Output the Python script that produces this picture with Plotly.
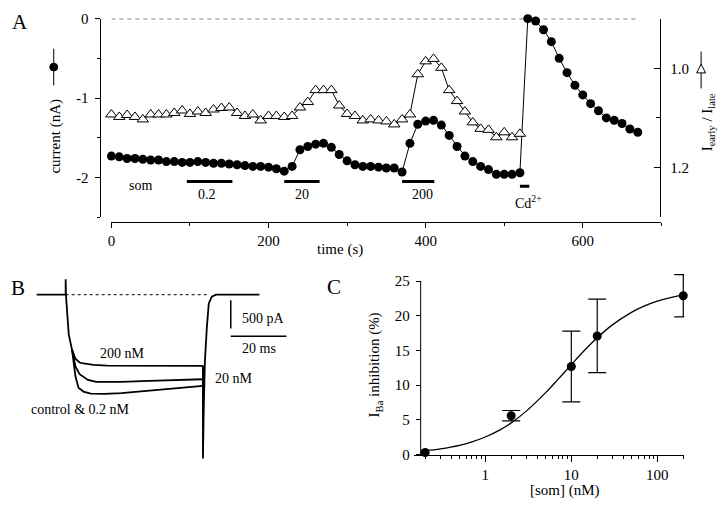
import plotly.graph_objects as go

# ---------------- data ----------------
# Panel A: time course (s)
time_circ = [0, 10, 20, 30, 40, 50, 60, 70, 80, 90, 100, 110, 120, 130, 140, 150, 160, 170, 180, 190,
             200, 210, 220, 230, 240, 250, 260, 270, 280, 290, 300, 310, 320, 330, 340, 350, 360, 370,
             380, 390, 400, 410, 420, 430, 440, 450, 460, 470, 480, 490, 500, 510, 520,
             530, 540, 550, 560, 570, 580, 590, 600, 610, 620, 630, 640, 650, 660, 670]
current_nA = [-1.73, -1.74, -1.76, -1.76, -1.77, -1.78, -1.78, -1.80, -1.80, -1.81, -1.81, -1.80, -1.81,
              -1.82, -1.82, -1.83, -1.84, -1.85, -1.86, -1.86, -1.87, -1.89, -1.92,
              -1.86, -1.65, -1.61, -1.58, -1.57, -1.62, -1.71, -1.79, -1.84, -1.86, -1.86, -1.87, -1.88,
              -1.88, -1.93,
              -1.57, -1.33, -1.29, -1.28, -1.34, -1.47, -1.61, -1.73, -1.80, -1.86, -1.90, -1.96, -1.96,
              -1.96, -1.94,
              0.00, -0.03, -0.14, -0.29, -0.50, -0.68, -0.84, -0.96, -1.07, -1.16, -1.25, -1.28, -1.32,
              -1.39, -1.43]
time_tri = time_circ[:53]
ratio_early_late = [1.093, 1.098, 1.094, 1.098, 1.103, 1.093, 1.093, 1.093, 1.090, 1.085, 1.092, 1.087,
                    1.090, 1.083, 1.080, 1.079, 1.090, 1.096, 1.093, 1.105, 1.096, 1.096, 1.098,
                    1.096, 1.079, 1.068, 1.044, 1.044, 1.044, 1.075, 1.092, 1.096, 1.105, 1.103, 1.105,
                    1.107, 1.113, 1.103,
                    1.093, 1.012, 0.986, 0.981, 0.999, 1.044, 1.066, 1.087, 1.109, 1.122, 1.124, 1.139,
                    1.129, 1.139, 1.132]
som_labels = ["0.2", "20", "200"]
som_start = [96, 220, 370]
som_end = [154, 265, 411]
cd_start, cd_end = 520, 532

# Panel B: current traces (ms, pA)
t_200 = [-10.4, 0, 0, 0.1, 1.1, 2.3, 3.5, 5.0, 6.4, 10, 15, 25, 35, 49.3]
i_200 = [0, 0, 276, 0, -707, -983, -1138, -1207, -1224, -1250, -1264, -1265, -1260, -1265]
t_20 = [2.3, 3.5, 5.0, 6.4, 8, 11, 20, 30, 40, 49.3]
i_20 = [-983, -1276, -1414, -1466, -1517, -1552, -1552, -1534, -1517, -1505]
t_ctrl = [2.3, 3.5, 4.6, 6.4, 9, 14, 20, 30, 40, 49.3]
i_ctrl = [-983, -1448, -1655, -1724, -1759, -1764, -1750, -1707, -1655, -1621]
t_tail = [49.3, 49.3, 49.6, 50.0, 50.7, 51.4, 52.5, 54.0, 69.6]
i_tail = [-1265, -2914, -2000, -1200, -586, -155, -34, 0, 0]
scale_ms = 20
scale_pA = 500

# Panel C: dose response
som_nM = [0.2, 2, 10, 20, 200]
inhib_pct = [0.3, 5.6, 12.7, 17.1, 22.9]
inhib_err = [0, 0.75, 5.1, 5.3, 3.05]
fit_nM = [0.2, 0.3, 0.5, 0.7, 1, 1.5, 2, 3, 5, 7, 10, 15, 20, 30, 50, 70, 100, 150, 200]
fit_pct = [0.55, 0.82, 1.33, 1.83, 2.53, 3.60, 4.57, 6.26, 8.89, 10.84, 12.97, 15.32, 16.84, 18.70,
           20.51, 21.40, 22.12, 22.71, 23.02]

# ---------------- figure ----------------
W, H = 720, 510
FONT = "Liberation Serif"
BLACK = "black"


def fx(p):
    return p / W


def fy(p):
    return 1 - p / H


fig = go.Figure()

# ---- Panel A ----
fig.add_trace(go.Scatter(x=[time_circ[0], time_circ[-1]], y=[0, 0], mode="lines",
                         line=dict(color=BLACK, width=1.2, dash="4px,4px"), xaxis="x", yaxis="y",
                         hoverinfo="skip"))
fig.add_trace(go.Scatter(x=time_circ, y=current_nA, mode="lines+markers",
                         line=dict(color=BLACK, width=1),
                         marker=dict(symbol="circle", size=9, color=BLACK),
                         cliponaxis=False, xaxis="x", yaxis="y"))
for s, e in zip(som_start, som_end):
    fig.add_trace(go.Scatter(x=[s, e], y=[-2.05, -2.05], mode="lines",
                             line=dict(color=BLACK, width=3), xaxis="x", yaxis="y",
                             cliponaxis=False))
fig.add_trace(go.Scatter(x=[cd_start, cd_end], y=[-2.11, -2.11], mode="lines",
                         line=dict(color=BLACK, width=3), xaxis="x", yaxis="y", cliponaxis=False))
fig.add_trace(go.Scatter(x=time_tri, y=ratio_early_late, mode="lines+markers",
                         line=dict(color=BLACK, width=1),
                         marker=dict(symbol="triangle-up", size=10, color="white",
                                     line=dict(color=BLACK, width=1)),
                         cliponaxis=False, xaxis="x", yaxis="y2"))

# ---- Panel B ----
blw = 1.8
fig.add_trace(go.Scatter(x=[0, 51], y=[0, 0], mode="lines",
                         line=dict(color=BLACK, width=1, dash="3px,3px"), xaxis="x3", yaxis="y3"))
fig.add_trace(go.Scatter(x=t_200, y=i_200, mode="lines", line=dict(color=BLACK, width=blw),
                         xaxis="x3", yaxis="y3"))
fig.add_trace(go.Scatter(x=t_20, y=i_20, mode="lines", line=dict(color=BLACK, width=blw),
                         xaxis="x3", yaxis="y3"))
fig.add_trace(go.Scatter(x=t_ctrl, y=i_ctrl, mode="lines", line=dict(color=BLACK, width=blw),
                         xaxis="x3", yaxis="y3"))
fig.add_trace(go.Scatter(x=t_tail, y=i_tail, mode="lines", line=dict(color=BLACK, width=blw),
                         xaxis="x3", yaxis="y3"))
fig.add_trace(go.Scatter(x=[t_ctrl[-1], t_ctrl[-1]], y=[i_200[-1], i_ctrl[-1]], mode="lines",
                         line=dict(color=BLACK, width=blw), xaxis="x3", yaxis="y3"))
# scale bar
sb_x0, sb_y0 = 59.3, -100
fig.add_trace(go.Scatter(x=[sb_x0, sb_x0], y=[sb_y0, sb_y0 - scale_pA], mode="lines",
                         line=dict(color=BLACK, width=1.5), xaxis="x3", yaxis="y3"))
fig.add_trace(go.Scatter(x=[sb_x0, sb_x0 + scale_ms], y=[-740, -740], mode="lines",
                         line=dict(color=BLACK, width=1.5), xaxis="x3", yaxis="y3"))

# ---- Panel C ----
fig.add_trace(go.Scatter(x=fit_nM, y=fit_pct, mode="lines", line=dict(color=BLACK, width=1.3, shape="spline"),
                         xaxis="x4", yaxis="y4"))
ex = [x for x, e in zip(som_nM, inhib_err) if e > 0]
ey = [y for y, e in zip(inhib_pct, inhib_err) if e > 0]
ee = [e for e in inhib_err if e > 0]
fig.add_trace(go.Scatter(x=ex, y=ey, mode="markers", marker=dict(size=1, color=BLACK),
                         error_y=dict(type="data", array=ee, color=BLACK, thickness=1.2, width=9),
                         xaxis="x4", yaxis="y4", cliponaxis=False))
fig.add_trace(go.Scatter(x=som_nM, y=inhib_pct, mode="markers", marker=dict(size=9, color=BLACK),
                         xaxis="x4", yaxis="y4", cliponaxis=False))

tickfont = dict(family=FONT, size=15, color=BLACK)
axis_common = dict(showline=True, linecolor=BLACK, linewidth=1, showgrid=False, zeroline=False,
                   tickcolor=BLACK, tickwidth=1, tickfont=tickfont)

fig.update_layout(
    width=W, height=H, margin=dict(l=0, r=0, t=0, b=0),
    paper_bgcolor="white", plot_bgcolor="rgba(0,0,0,0)", showlegend=False,
    font=dict(family=FONT, size=14, color=BLACK),
    xaxis=dict(domain=[fx(108), fx(661)], range=[0, 700], anchor="free", position=fy(221),
               tickmode="array", tickvals=[0, 200, 400, 600], ticks="outside", ticklen=5,
               minor=dict(tickmode="array", tickvals=[100, 300, 500, 700], ticks="outside", ticklen=3,
                          tickcolor=BLACK),
               **axis_common),
    yaxis=dict(domain=[fy(216), fy(11)], range=[-2.5, 0], anchor="free", position=fx(97),
               tickmode="array", tickvals=[-2, -1, 0], ticktext=["-2", "-1", "0"], ticks="outside",
               ticklen=5, ticklabelstandoff=4,
               minor=dict(tickmode="array", tickvals=[-2.5, -1.5, -0.5], ticks="outside", ticklen=3,
                          tickcolor=BLACK),
               **axis_common),
    yaxis2=dict(overlaying="y", side="right", anchor="free", position=fx(660), range=[1.3, 0.9],
                tickmode="array", tickvals=[1.0, 1.2], ticktext=["1.0", "1.2"], ticks="inside",
                ticklen=6, ticklabelstandoff=6,
                minor=dict(tickmode="array", tickvals=[0.9, 1.1, 1.3], ticks="inside", ticklen=4,
                           tickcolor=BLACK),
                **axis_common),
    xaxis3=dict(domain=[fx(28.4), fx(291.6)], range=[-12, 82], visible=False, anchor="y3"),
    yaxis3=dict(domain=[fy(481.6), fy(267)], range=[-3200, 500], visible=False, anchor="x3"),
    xaxis4=dict(type="log", domain=[fx(412), fx(684)], range=[-0.832, 2.312], anchor="y4",
                tickmode="array", tickvals=[1, 10, 100], ticktext=["1", "10", "100"],
                ticks="outside", ticklen=6,
                minor=dict(tickmode="array",
                           tickvals=[0.2, 0.3, 0.4, 0.5, 0.6, 0.7, 0.8, 0.9, 2, 3, 4, 5, 6, 7, 8, 9,
                                     20, 30, 40, 50, 60, 70, 80, 90, 200],
                           ticks="outside", ticklen=3, tickcolor=BLACK),
                **axis_common),
    yaxis4=dict(domain=[fy(461), fy(271.3)], range=[0, 26.5], anchor="free", position=fx(419),
                tickmode="array", tickvals=[0, 5, 10, 15, 20, 25], ticks="outside", ticklen=5,
                ticklabelstandoff=3, **{**axis_common, "showline": False}),
)

ann = []


def txt(x, y, s, size=14, angle=0, xanchor="center"):
    ann.append(dict(x=fx(x), y=fy(y), xref="paper", yref="paper", text=s, showarrow=False,
                    font=dict(family=FONT, size=size, color=BLACK), textangle=angle,
                    xanchor=xanchor, yanchor="middle"))


# panel letters
txt(16, 14, "A", size=21)
txt(14, 289, "B", size=21)
txt(332, 288, "C", size=21)
# panel A texts
txt(52, 132, "current (nA)", size=15, angle=-90)
txt(338, 249, "time (s)", size=15)
txt(708, 118, "I<sub>early</sub> / I<sub>late</sub>", size=15, angle=-90)
txt(137, 183, "som")
txt(204, 193, "0.2")
txt(300, 193, "20")
txt(421, 193, "200")
txt(527, 200, "Cd<sup>2+</sup>")
# panel B texts
txt(119, 357, "200 nM")
txt(231, 383, "20 nM")
txt(77, 415, "control &amp; 0.2 nM")
txt(237, 321, "500 pA", xanchor="left")
txt(256, 352, "20 ms")
# panel C texts
txt(374, 368, "I<sub>Ba</sub> inhibition (%)", size=15, angle=-90)
txt(564, 498, "[som] (nM)", size=15)

shapes = [
    # panel C y-axis line (ends at 25)
    dict(type="line", xref="paper", yref="y4", x0=fx(419), x1=fx(419), y0=0, y1=25,
         line=dict(color=BLACK, width=1)),
    dict(type="line", xref="paper", yref="paper", x0=fx(50), x1=fx(50), y0=fy(42), y1=fy(80),
         line=dict(color=BLACK, width=1)),
    dict(type="circle", xref="paper", yref="paper", x0=fx(46), x1=fx(54), y0=fy(65), y1=fy(57),
         fillcolor=BLACK, line=dict(color=BLACK, width=1)),
    dict(type="line", xref="paper", yref="paper", x0=fx(701), x1=fx(701), y0=fy(45), y1=fy(83),
         line=dict(color=BLACK, width=1)),
    dict(type="path", xref="paper", yref="paper",
         path=f"M {fx(701)},{fy(58)} L {fx(696.5)},{fy(67)} L {fx(705.5)},{fy(67)} Z",
         fillcolor="white", line=dict(color=BLACK, width=1)),
]

fig.update_layout(annotations=ann, shapes=shapes)
fig.write_html("out.html", config={"displayModeBar": False, "staticPlot": True},
               post_script="document.body.style.margin='0';document.body.style.padding='0';"
                           "document.body.style.overflow='hidden';")
